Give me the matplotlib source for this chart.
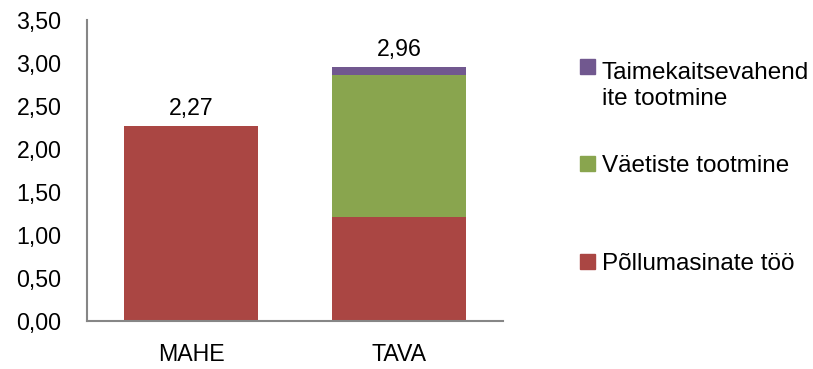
import matplotlib.pyplot as plt
from matplotlib.patches import Rectangle
import numpy as np

plt.rcParams['font.family'] = ['Liberation Sans', 'DejaVu Sans']

categories = ['MAHE', 'TAVA']
series_names = ['Põllumasinate töö', 'Väetiste tootmine', 'Taimekaitsevahend\nite tootmine']
pollumasinad = [2.27, 1.21]
vaetised = [0.0, 1.65]
taimekaitse = [0.0, 0.10]
totals = [2.27, 2.96]
yticks = [0, 0.5, 1.0, 1.5, 2.0, 2.5, 3.0, 3.5]

colors = ['#AA4643', '#89A54E', '#71588F']
fs = 16.7

fig = plt.figure(figsize=(8.13, 3.69), dpi=100)
ax = fig.add_axes([87/813, 1-321/369, 416/813, 300.5/369])

x = np.arange(len(categories))
w = 0.645
bottom = np.zeros(len(categories))
for vals, col in zip([pollumasinad, vaetised, taimekaitse], colors):
    ax.bar(x, vals, w, bottom=bottom, color=col, linewidth=0)
    bottom += np.array(vals)

for xi, t in zip(x, totals):
    ax.annotate(f'{t:.2f}'.replace('.', ','), (xi, t), xytext=(0, 4.5),
                textcoords='offset points', ha='center', va='bottom', fontsize=fs)

ax.set_xlim(-0.5, 1.5)
ax.set_ylim(0, 3.5)
ax.set_xticks(x)
ax.set_xticklabels(categories, fontsize=fs)
ax.set_yticks(yticks)
ax.set_yticklabels([f'{v:.2f}'.replace('.', ',') for v in yticks], fontsize=fs)
ax.tick_params(length=0)
ax.tick_params(axis='y', pad=18.5)
ax.tick_params(axis='x', pad=16)
for s in ['top', 'right']:
    ax.spines[s].set_visible(False)
for s in ['left', 'bottom']:
    ax.spines[s].set_color('#868686')
    ax.spines[s].set_linewidth(1.5)

# legend drawn by hand to follow the uneven spacing
leg_y = [261, 163, 66]
for name, col, yy in zip(series_names, colors, leg_y):
    fig.patches.append(Rectangle((580/813, 1-(yy+7.5)/369), 15/813, 15/369,
                                 transform=fig.transFigure, color=col))
    base = yy + 9 + 30 * name.count('\n')
    fig.text(602/813, 1-base/369, name, fontsize=17.5, va='baseline', ha='left',
             linespacing=1.25)

fig.savefig('out.png', dpi=100)
